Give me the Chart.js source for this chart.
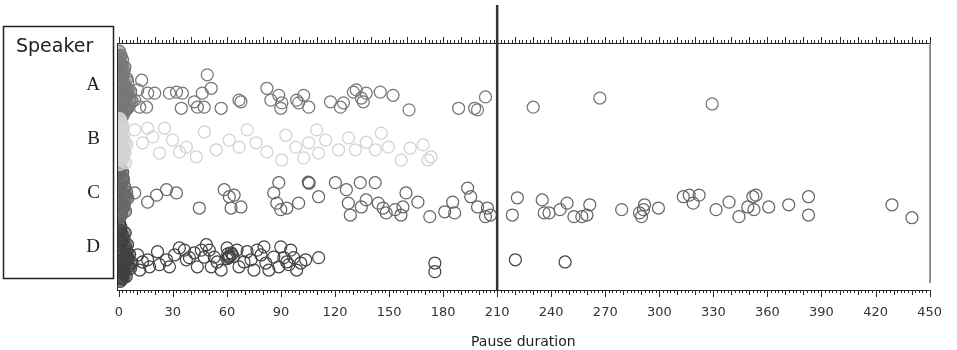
<!DOCTYPE html>
<html><head><meta charset="utf-8">
<script src="https://cdn.jsdelivr.net/npm/chart.js@4.4.1/dist/chart.umd.min.js"></script>
<style>html,body{margin:0;padding:0;background:#fff;}#wrap{width:957px;height:350px;}</style>
</head><body><div id="wrap"><canvas id="c" width="957" height="350"></canvas></div>
<script>
// ---- data ----
const speakers = ['A','B','C','D'];
const xTickValues = [0,30,60,90,120,150,180,210,240,270,300,330,360,390,420,450];
const referenceLine = 210;

const aPause = [5.0,8.8,10.5,12.7,11.6,15.4,16.0,19.9,28.1,32.0,35.3,34.7,41.9,43.6,46.3,47.4,49.1,51.3,56.8,66.7,67.8,82.2,84.4,88.8,90.5,89.9,98.7,99.8,102.6,105.4,117.5,123.0,124.7,130.2,131.8,134.6,135.7,137.3,145.1,152.2,161.1,188.6,197.5,199.1,203.5,230.0,267.0,329.3];
const aJitter = [-0.06,0.28,0.09,-0.09,0.41,0.41,0.15,0.15,0.15,0.13,0.15,0.43,0.31,0.41,0.15,0.41,-0.19,0.06,0.43,0.28,0.31,0.06,0.28,0.19,0.33,0.43,0.28,0.33,0.19,0.41,0.31,0.41,0.33,0.13,0.09,0.24,0.31,0.15,0.13,0.19,0.46,0.43,0.43,0.46,0.22,0.41,0.24,0.35];
const aShortPause = [0.3,1.2,0.6,2.1,3.4,0.9,1.7,4.6,2.8,0.2,5.3,1.4,3.0,0.7,2.4,6.2,4.1,1.0,3.7,0.4,2.6,5.8,1.9,0.8,3.2,4.9,1.3,2.2,0.5,3.9,7.4,1.6,2.9,0.1,4.4,6.6];
const aShortJitter = [-0.63,-0.55,-0.41,-0.47,-0.33,-0.2,-0.27,-0.12,-0.05,0.02,0.08,0.14,0.22,0.3,0.36,0.28,0.42,0.5,0.47,0.58,0.55,0.4,-0.36,-0.09,0.11,0.19,0.33,-0.16,-0.52,0.04,0.3,0.6,-0.25,0.25,0.45,0.12];

const bPause = [13.2,18.8,22.6,29.8,37.5,43.0,54.1,61.3,66.8,76.2,90.5,98.2,105.4,110.9,114.8,122.0,131.3,142.4,149.6,156.7,171.6,173.3,8.8,16.0,25.4,33.7,47.5,71.2,82.2,92.7,102.6,109.8,127.5,137.4,145.7,161.7,168.9];
const bJitter = [0.07,-0.04,0.26,0.02,0.15,0.33,0.2,0.02,0.15,0.07,0.39,0.15,0.07,0.26,0.02,0.2,0.2,0.2,0.15,0.39,0.39,0.33,-0.17,-0.2,-0.2,0.24,-0.13,-0.17,0.24,-0.07,0.35,-0.17,-0.02,0.06,-0.11,0.17,0.11];
const bShortPause = [0.4,1.1,2.3,0.7,1.8,3.2,0.2,2.7,1.4,0.9,3.8,0.5,2.0,1.3,4.5,0.3,2.9,1.6,0.8,3.5,2.2,1.0,0.6,2.5];
const bShortJitter = [-0.38,-0.3,-0.22,-0.12,-0.04,0.05,0.12,0.2,0.28,0.36,0.44,0.47,-0.26,-0.15,0.1,0.3,-0.08,0.4,0.0,0.25,0.16,-0.35,0.22,0.33];

const cPause = [8.8,16.0,21.0,26.5,32.0,44.7,58.5,61.3,64.0,62.3,67.8,86.0,87.7,88.8,89.9,93.2,99.8,105.4,105.6,105.2,110.9,120.2,126.3,127.4,128.5,134.0,134.6,137.3,142.3,144.0,146.7,148.4,153.3,156.6,157.7,159.4,166.0,172.6,180.9,185.3,186.4,193.6,195.3,199.1,203.5,204.6,206.3,218.4,221.2,235.0,236.1,238.8,244.9,248.8,252.6,257.0,259.8,261.4,279.1,289.0,290.1,291.2,291.8,299.5,313.3,316.6,318.8,322.1,331.5,338.7,344.2,349.1,351.9,353.6,352.5,360.7,371.8,382.8,382.8,429.1,440.2];
const cJitter = [0,0.17,0.04,-0.06,0,0.28,-0.06,0.07,0.04,0.28,0.26,0,0.19,-0.19,0.31,0.28,0.19,-0.19,-0.18,-0.2,0.07,-0.19,-0.06,0.19,0.41,-0.19,0.26,0.13,-0.19,0.19,0.28,0.37,0.31,0.41,0.26,0,0.17,0.44,0.35,0.17,0.37,-0.09,0.07,0.26,0.44,0.28,0.41,0.41,0.09,0.13,0.37,0.37,0.31,0.19,0.44,0.44,0.41,0.22,0.31,0.37,0.44,0.31,0.22,0.28,0.07,0.04,0.19,0.04,0.31,0.17,0.44,0.26,0.07,0.04,0.31,0.26,0.22,0.07,0.41,0.22,0.46];
const cShortPause = [0.5,1.3,0.2,2.4,1.7,3.3,0.8,2.0,4.1,1.1,0.4,2.8,3.7,1.5,0.6,5.0,2.2,0.9,3.0,1.8,0.3,4.4,2.6,1.2,0.7,3.5];
const cShortJitter = [-0.5,-0.41,-0.36,-0.27,-0.21,-0.11,-0.07,0.01,0.07,0.12,0.21,0.26,0.34,0.4,0.45,0.1,-0.38,-0.15,0.22,0.3,0.38,-0.02,-0.24,0.17,-0.46,0.03];

const dPause = [10.5,16.0,17.1,21.5,26.5,28.1,33.6,36.4,37.5,41.9,43.6,45.8,47.4,50.2,51.3,53.0,56.8,60.1,61.2,62.3,65.6,66.7,71.2,73.4,75.0,78.9,81.6,83.3,86.0,88.8,89.9,93.2,95.4,98.7,103.7,110.9,175.4,175.4,220.1,247.7,60.5,61.5,62.8,61.0,63.5,60.0,11.6,13.2,22.6,30.9,39.2,48.6,54.6,69.5,76.7,80.6,91.6,94.4,97.1,101.0];
const dJitter = [0.15,0.24,0.37,0.09,0.24,0.37,0.02,0.06,0.24,0.11,0.37,0.06,0.19,0.06,0.37,0.19,0.43,0.02,0.19,0.11,0.06,0.37,0.09,0.24,0.43,0.15,0.30,0.43,0.19,0.37,0,0.28,0.06,0.43,0.24,0.20,0.30,0.46,0.24,0.28,0.13,0.17,0.14,0.2,0.18,0.22,0.43,0.28,0.33,0.15,0.2,-0.04,0.28,0.28,0.06,0,0.2,0.33,0.2,0.3];
const dShortPause = [0.4,1.2,0.7,2.0,2.9,1.5,3.8,0.3,2.5,4.7,1.0,3.3,5.6,0.6,2.2,4.1,6.5,1.8,0.9,3.0,5.2,7.4,2.7,1.3,4.4,0.5,3.6,6.0,1.7,2.4,0.2,4.9];
const dShortJitter = [-0.44,-0.37,-0.3,-0.22,-0.15,-0.08,0.0,0.05,0.12,0.18,0.25,0.3,0.36,0.42,0.48,0.55,0.4,0.6,0.64,0.5,0.22,0.3,0.44,-0.12,0.08,0.28,-0.26,0.14,0.35,0.58,0.16,-0.04];

// ---- build ----
const series = [
  {idx:1, p:bPause, j:bJitter, sp:bShortPause, sj:bShortJitter, stroke:'#d2d2d2', fill:'rgba(212,212,212,0.55)'},
  {idx:0, p:aPause, j:aJitter, sp:aShortPause, sj:aShortJitter, stroke:'#777777', fill:'rgba(120,120,120,0.5)'},
  {idx:2, p:cPause, j:cJitter, sp:cShortPause, sj:cShortJitter, stroke:'#666666', fill:'rgba(105,105,105,0.5)'},
  {idx:3, p:dPause, j:dJitter, sp:dShortPause, sj:dShortJitter, stroke:'#444444', fill:'rgba(62,62,62,0.5)'}
];
const clip = {left:0, top:false, right:false, bottom:false};
const datasets = [];
series.forEach(s => {
  datasets.push({label: speakers[s.idx]+' short', data: s.sp.map((v,k)=>({x:v, y:s.idx + s.sj[k]})),
    borderColor: s.stroke, backgroundColor: s.fill, pointRadius: 6, pointBorderWidth: 1.25, clip});
  datasets.push({label: speakers[s.idx], data: s.p.map((v,k)=>({x:v, y:s.idx + s.j[k]})),
    borderColor: s.stroke, backgroundColor: 'rgba(0,0,0,0)', pointRadius: 6, pointBorderWidth: 1.25, clip});
});

const deco = {
  id: 'deco',
  afterDraw(chart) {
    const {ctx, chartArea: a} = chart;
    const xs = chart.scales.x;
    ctx.save();
    ctx.strokeStyle = '#2a2a2a';
    ctx.lineWidth = 1;
    ctx.beginPath();
    ctx.moveTo(a.left, a.top + 0.5); ctx.lineTo(a.right, a.top + 0.5);
    for (let v = 0; v <= 450; v += 2) {
      const px = Math.round(xs.getPixelForValue(v)) + 0.5;
      const len = (v % 10 === 0) ? 6 : 3;
      ctx.moveTo(px, a.top); ctx.lineTo(px, a.top - len);
    }
    ctx.moveTo(a.left, a.bottom + 0.5); ctx.lineTo(a.right, a.bottom + 0.5);
    for (let v = 0; v <= 450; v += 2) {
      const px = Math.round(xs.getPixelForValue(v)) + 0.5;
      const len = (v % 30 === 0) ? 7 : (v % 10 === 0 ? 5 : 3);
      ctx.moveTo(px, a.bottom); ctx.lineTo(px, a.bottom + len);
    }
    ctx.moveTo(a.left + 0.5, a.top); ctx.lineTo(a.left + 0.5, a.bottom);
    ctx.moveTo(a.right + 0.5, a.top); ctx.lineTo(a.right + 0.5, a.bottom - 7);
    ctx.stroke();
    ctx.beginPath();
    ctx.lineWidth = 2.5;
    ctx.strokeStyle = '#333';
    const rx = xs.getPixelForValue(referenceLine);
    ctx.moveTo(rx, 5); ctx.lineTo(rx, a.bottom);
    ctx.stroke();
    ctx.lineWidth = 1.5;
    ctx.strokeStyle = '#222';
    ctx.strokeRect(3.5, 26.5, 110, 252);
    ctx.fillStyle = '#222';
    ctx.font = '19px "DejaVu Sans"';
    ctx.textBaseline = 'alphabetic';
    ctx.textAlign = 'left';
    ctx.fillText('Speaker', 16, 52);
    ctx.restore();
  }
};

new Chart(document.getElementById('c'), {
  type: 'scatter',
  data: {datasets},
  options: {
    responsive: false, animation: false, devicePixelRatio: 1,
    layout: {padding: {top: 43, right: 23, left: 0, bottom: 0}},
    plugins: {legend: {display: false}, tooltip: {enabled: false}},
    elements: {point: {pointStyle: 'circle', hoverRadius: 6}},
    scales: {
      x: {
        type: 'linear', position: 'bottom', min: -1, max: 450,
        afterBuildTicks: s => { s.ticks = xTickValues.map(v => ({value: v})); },
        afterFit: s => { s.height = 60; },
        grid: {display: false, drawTicks: false},
        border: {display: false},
        ticks: {autoSkip: false, maxRotation: 0, padding: 15, color: '#333',
          font: {family: 'DejaVu Sans', size: 13}},
        title: {display: true, text: 'Pause duration', color: '#222',
          font: {family: 'DejaVu Sans', size: 14}, padding: {top: 0, bottom: -1}}
      },
      y: {
        type: 'linear', reverse: true, min: -0.78, max: 3.8,
        afterBuildTicks: s => { s.ticks = speakers.map((_, i) => ({value: i})); },
        afterFit: s => { s.width = 117; },
        grid: {display: false, drawTicks: false},
        border: {display: false},
        ticks: {padding: 17, color: '#222', callback: v => speakers[v],
          font: {family: 'Liberation Serif', size: 19}}
      }
    }
  },
  plugins: [deco]
});
</script>
</body></html>
